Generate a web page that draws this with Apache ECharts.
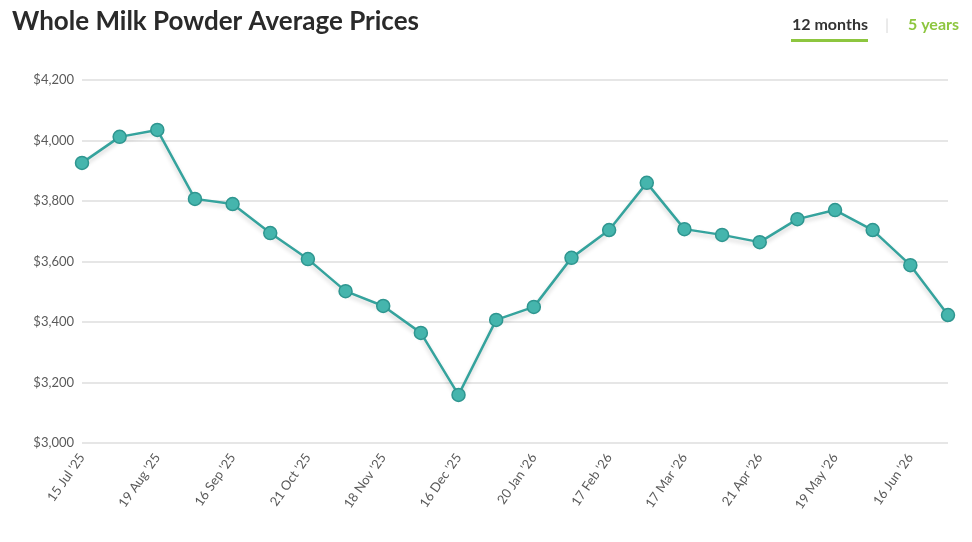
<!DOCTYPE html>
<html>
<head>
<meta charset="utf-8">
<script src="https://cdn.jsdelivr.net/npm/echarts@6/dist/echarts.min.js"></script>
<style>
  html, body { margin: 0; padding: 0; background: #fff; }
  #main { width: 972px; height: 542px; }
</style>
</head>
<body>
<div id="main"></div>
<script>
// auction dates (every second one is labelled on the axis)
var dates = ["15 Jul '25", "5 Aug '25", "19 Aug '25", "2 Sep '25", "16 Sep '25", "7 Oct '25",
  "21 Oct '25", "4 Nov '25", "18 Nov '25", "2 Dec '25", "16 Dec '25", "6 Jan '26",
  "20 Jan '26", "3 Feb '26", "17 Feb '26", "3 Mar '26", "17 Mar '26", "7 Apr '26",
  "21 Apr '26", "5 May '26", "19 May '26", "2 Jun '26", "16 Jun '26", "7 Jul '26"];
var prices = [3926, 4012, 4035, 3807, 3790, 3694, 3608, 3502, 3453, 3364, 3159, 3407,
  3450, 3612, 3704, 3860, 3707, 3688, 3664, 3740, 3770, 3704, 3588, 3423];
var yMin = 3000, yMax = 4200, yStep = 200;

var chart = echarts.init(document.getElementById('main'));

var option = {
  animation: false,
  title: {
    text: 'Whole Milk Powder Average Prices',
    left: 7,
    top: 4,
    textStyle: { fontFamily: 'Lato', fontWeight: 'bold', fontSize: 26, color: '#2a2a2a' }
  },
  graphic: [
    { type: 'text', left: 792, top: 17, style: { text: '12 months', font: 'bold 16px Lato', fill: '#333' } },
    { type: 'rect', left: 791, top: 39, shape: { width: 77, height: 3 }, style: { fill: '#8dc63f' } },
    { type: 'text', left: 885, top: 17, style: { text: '|', font: '16px Lato', fill: '#ddd' } },
    { type: 'text', left: 908, top: 17, style: { text: '5 years', font: 'bold 16px Lato', fill: '#8dc63f' } }
  ],
  grid: { left: 82, right: 24, top: 80, bottom: 99 },
  xAxis: {
    type: 'category',
    data: dates,
    boundaryGap: false,
    axisLine: { show: false },
    axisTick: { show: false },
    axisLabel: {
      interval: 1,
      rotate: 55,
      margin: 12,
      color: '#5a5a5a',
      fontFamily: 'Lato',
      fontSize: 13
    }
  },
  yAxis: {
    type: 'value',
    min: yMin,
    max: yMax,
    interval: yStep,
    axisLine: { show: false },
    axisTick: { show: false },
    axisLabel: {
      margin: 8,
      color: '#5a5a5a',
      fontFamily: 'Lato',
      fontSize: 13,
      formatter: function (v) { return '$' + v.toLocaleString('en-US'); }
    },
    splitLine: { lineStyle: { color: '#e6e6e6', width: 2 } }
  },
  series: [{
    type: 'line',
    data: prices,
    symbol: 'circle',
    symbolSize: 13,
    lineStyle: {
      color: '#35a39d',
      width: 2.5,
      shadowColor: 'rgba(0,0,0,0.18)',
      shadowBlur: 4,
      shadowOffsetY: 3
    },
    itemStyle: {
      color: '#45b5ad',
      borderColor: '#2f9690',
      borderWidth: 1.5
    }
  }]
};

chart.setOption(option);
</script>
</body>
</html>
